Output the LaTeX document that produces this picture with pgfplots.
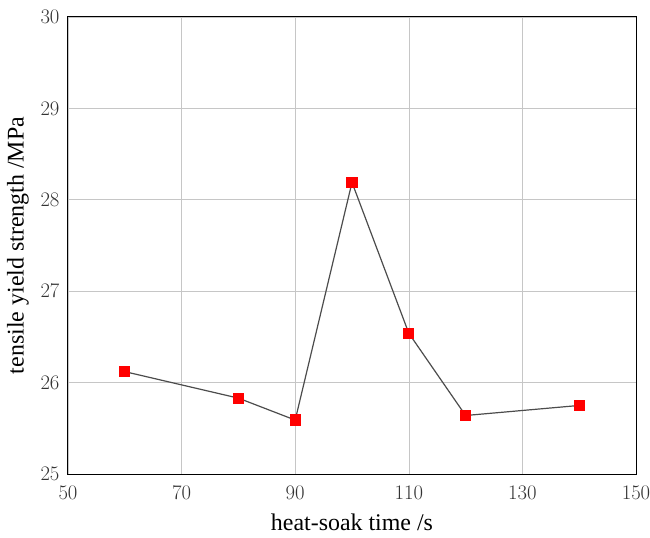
\documentclass[border=0pt]{standalone}
\usepackage{fontspec}
\setmainfont{Liberation Serif}
\usepackage{pgfplots}
\pgfplotsset{compat=1.18}
\begin{document}
\begin{tikzpicture}
\begin{axis}[
  name=ax,
  scale only axis,
  width=568bp, height=457bp,
  xmin=50, xmax=150, ymin=25, ymax=30,
  xtick={50,70,90,110,130,150},
  ytick={25,26,27,28,29,30},
  grid=major,
  grid style={gray!45, line width=0.6bp},
  major tick length=0pt,
  axis line style={black, line width=1bp},
  tick label style={font=\fontsize{19.5}{22}\selectfont, text=black!80},
  xticklabel style={yshift=-9bp},
  yticklabel style={xshift=-5bp},
  xlabel={heat-soak time /s},
  ylabel={tensile yield strength /MPa},
  label style={font=\fontsize{24}{28}\selectfont},
  xlabel style={yshift=-7bp},
  ylabel style={yshift=5bp},
  clip=false,
]
\addplot[color=black!70, line width=1.2bp, mark=square*, mark size=5bp,
  mark options={fill=red, draw=red, solid}]
  coordinates {(60,26.12) (80,25.83) (90,25.59) (100,28.19) (110,26.54) (120,25.64) (140,25.75)};
\end{axis}
\pgfresetboundingbox
\path ([shift={(-68bp,-64bp)}]ax.south west) rectangle ([shift={(14bp,17bp)}]ax.north east);
\end{tikzpicture}
\end{document}
